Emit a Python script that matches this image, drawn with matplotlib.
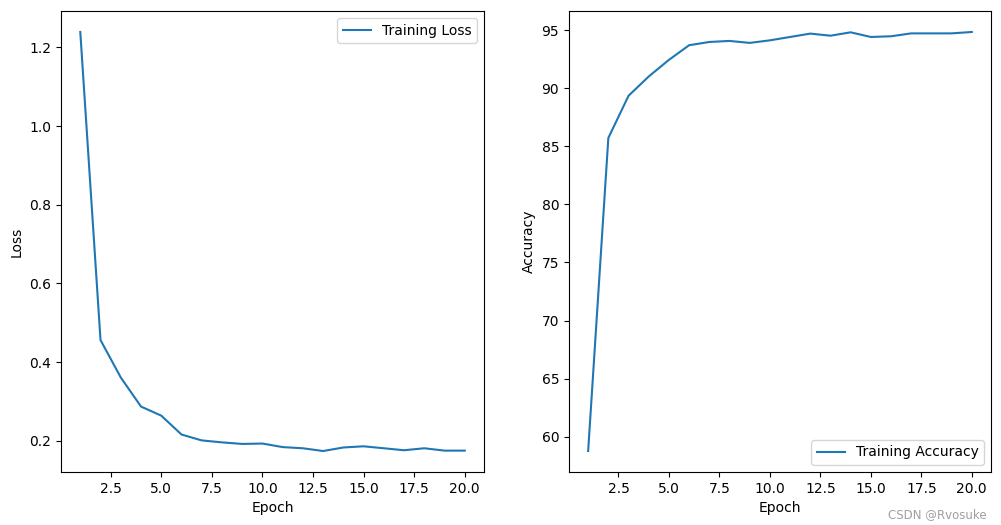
import matplotlib
matplotlib.use("Agg")
import matplotlib.pyplot as plt

epochs = list(range(1, 21))
train_loss = [1.239, 0.456, 0.361, 0.287, 0.264, 0.216, 0.201, 0.196, 0.192, 0.193,
              0.184, 0.181, 0.174, 0.183, 0.186, 0.181, 0.176, 0.181, 0.175, 0.175]
train_acc = [58.77, 85.71, 89.34, 91.0, 92.43, 93.69, 93.97, 94.06, 93.89, 94.11,
             94.4, 94.69, 94.51, 94.8, 94.4, 94.46, 94.71, 94.71, 94.71, 94.83]

fig = plt.figure(figsize=(10.01, 5.25), dpi=100)
ax1 = fig.add_axes([0.061, 0.101, 0.4225, 0.878])
ax2 = fig.add_axes([0.5684, 0.101, 0.4216, 0.878])

ax1.plot(epochs, train_loss, label="Training Loss")
ax1.set_xlabel("Epoch")
ax1.set_ylabel("Loss")
ax1.legend()

ax2.plot(epochs, train_acc, label="Training Accuracy")
ax2.set_xlabel("Epoch")
ax2.set_ylabel("Accuracy")
ax2.legend(loc="lower right")

fig.text(0.986, 0.008, "CSDN @Rvosuke", ha="right", va="bottom", fontsize=8.5, color="#a0a0a0")

fig.savefig("out.png", dpi=100)
